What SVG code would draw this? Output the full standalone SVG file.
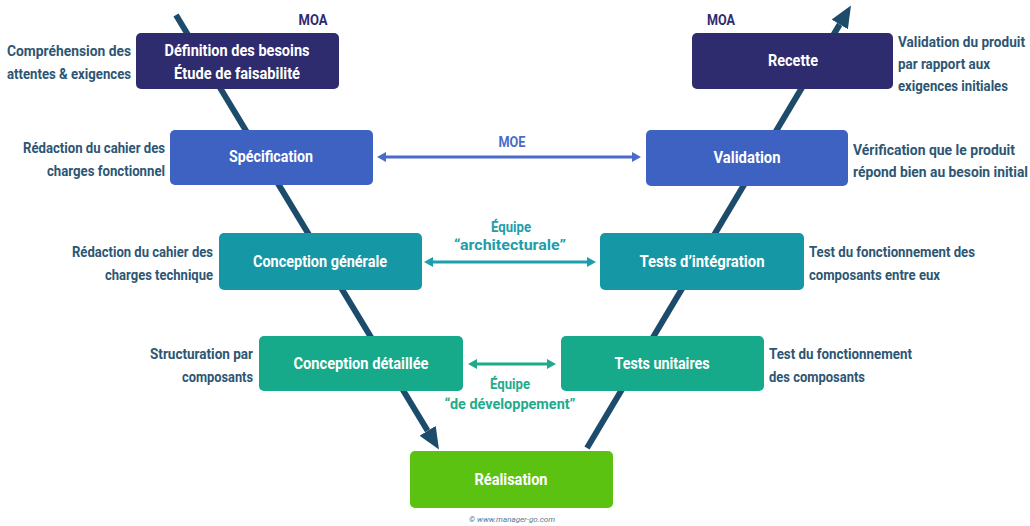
<svg xmlns="http://www.w3.org/2000/svg" width="1030" height="526" viewBox="0 0 1030 526">
  <style>
    .box { rx: 5; ry: 5; }
    text { font-family: Roboto, "Open Sans", sans-serif; font-weight: 700; }
    .title { font-size: 16px; fill: #ffffff; text-anchor: middle; }
    .side { font-size: 14px; fill: #2d5674; }
    .left { text-anchor: end; }
    .tag { font-size: 14px; text-anchor: middle; }
    .credit { font-size: 8px; font-weight: 400; font-style: italic; fill: #5a7a95; text-anchor: middle; }
    .vline { stroke: #1c4b6c; stroke-width: 6; fill: none; }
    .hline { stroke-width: 3; fill: none; }
  </style>
  <defs>
    <marker id="bigHead" markerUnits="userSpaceOnUse" markerWidth="22" markerHeight="19" refX="0" refY="9.5" orient="auto">
      <path d="M0,0 L22,9.5 L0,19 z" fill="#1c4b6c"/>
    </marker>
    <marker id="headMoe" markerUnits="userSpaceOnUse" markerWidth="9" markerHeight="10" refX="0" refY="5" orient="auto-start-reverse">
      <path d="M0,0 L9,5 L0,10 z" fill="#4a6cc8"/>
    </marker>
    <marker id="headArch" markerUnits="userSpaceOnUse" markerWidth="9" markerHeight="10" refX="0" refY="5" orient="auto-start-reverse">
      <path d="M0,0 L9,5 L0,10 z" fill="#1e9dac"/>
    </marker>
    <marker id="headDev" markerUnits="userSpaceOnUse" markerWidth="9" markerHeight="10" refX="0" refY="5" orient="auto-start-reverse">
      <path d="M0,0 L9,5 L0,10 z" fill="#1fab8b"/>
    </marker>
  </defs>

  <rect width="1030" height="526" fill="#ffffff"/>

  <!-- V-cycle descending and ascending branches, plus team links -->
  <g id="connectors">
    <line class="vline" x1="176" y1="15" x2="427.6" y2="430.8" marker-end="url(#bigHead)"/>
    <line class="vline" x1="587" y1="448" x2="839.7" y2="24.4" marker-end="url(#bigHead)"/>
    <line class="hline" stroke="#4a6cc8" x1="386" y1="157" x2="632" y2="157" marker-start="url(#headMoe)" marker-end="url(#headMoe)"/>
    <line class="hline" stroke="#1e9dac" x1="433" y1="262" x2="587" y2="262" marker-start="url(#headArch)" marker-end="url(#headArch)"/>
    <line class="hline" stroke="#1fab8b" x1="477" y1="364" x2="547" y2="364" marker-start="url(#headDev)" marker-end="url(#headDev)"/>
  </g>

  <!-- Team labels -->
  <g id="labels">
    <text class="tag" x="313" y="25" fill="#2f2b6f" textLength="29" lengthAdjust="spacingAndGlyphs">MOA</text>
    <text class="tag" x="721" y="25" fill="#2f2b6f" textLength="28" lengthAdjust="spacingAndGlyphs">MOA</text>
    <text class="tag" x="512" y="147" fill="#4a6cc8" textLength="27" lengthAdjust="spacingAndGlyphs">MOE</text>
    <text class="tag" x="511" y="232" fill="#1e9dac" textLength="40" lengthAdjust="spacingAndGlyphs">Équipe</text>
    <text class="tag" x="510" y="250" fill="#1e9dac" textLength="112" lengthAdjust="spacingAndGlyphs">“architecturale”</text>
    <text class="tag" x="510" y="389" fill="#1fab8b" textLength="40" lengthAdjust="spacingAndGlyphs">Équipe</text>
    <text class="tag" x="510" y="409" fill="#1fab8b" textLength="131" lengthAdjust="spacingAndGlyphs">“de développement”</text>
  </g>

  <g id="definition">
    <rect class="box" x="136" y="33" width="203" height="56" fill="#2f2b6f"/>
    <text class="title" x="237" y="56" textLength="145" lengthAdjust="spacingAndGlyphs">Définition des besoins</text>
    <text class="title" x="237" y="79" textLength="126" lengthAdjust="spacingAndGlyphs">Étude de faisabilité</text>
    <text class="side left" x="131" y="56" textLength="124" lengthAdjust="spacingAndGlyphs">Compréhension des</text>
    <text class="side left" x="131" y="79" textLength="124" lengthAdjust="spacingAndGlyphs">attentes &amp; exigences</text>
  </g>

  <g id="recette">
    <rect class="box" x="692" y="33" width="201" height="56" fill="#2f2b6f"/>
    <text class="title" x="793" y="66" textLength="50" lengthAdjust="spacingAndGlyphs">Recette</text>
    <text class="side" x="898" y="47" textLength="127" lengthAdjust="spacingAndGlyphs">Validation du produit</text>
    <text class="side" x="898" y="69" textLength="92" lengthAdjust="spacingAndGlyphs">par rapport aux</text>
    <text class="side" x="898" y="91" textLength="110" lengthAdjust="spacingAndGlyphs">exigences initiales</text>
  </g>

  <g id="specification">
    <rect class="box" x="170" y="130" width="203" height="55" fill="#3d62c1"/>
    <text class="title" x="271" y="162" textLength="84" lengthAdjust="spacingAndGlyphs">Spécification</text>
    <text class="side left" x="165" y="153" textLength="142" lengthAdjust="spacingAndGlyphs">Rédaction du cahier des</text>
    <text class="side left" x="165" y="176" textLength="118" lengthAdjust="spacingAndGlyphs">charges fonctionnel</text>
  </g>

  <g id="validation">
    <rect class="box" x="646" y="130" width="202" height="56" fill="#3d62c1"/>
    <text class="title" x="747" y="163" textLength="67" lengthAdjust="spacingAndGlyphs">Validation</text>
    <text class="side" x="853" y="155" textLength="162" lengthAdjust="spacingAndGlyphs">Vérification que le produit</text>
    <text class="side" x="853" y="177" textLength="175" lengthAdjust="spacingAndGlyphs">répond bien au besoin initial</text>
  </g>

  <g id="conception-generale">
    <rect class="box" x="219" y="233" width="203" height="57" fill="#1697a6"/>
    <text class="title" x="320" y="267" textLength="134" lengthAdjust="spacingAndGlyphs">Conception générale</text>
    <text class="side left" x="213" y="257" textLength="141" lengthAdjust="spacingAndGlyphs">Rédaction du cahier des</text>
    <text class="side left" x="213" y="280" textLength="108" lengthAdjust="spacingAndGlyphs">charges technique</text>
  </g>

  <g id="tests-integration">
    <rect class="box" x="600" y="233" width="204" height="57" fill="#1697a6"/>
    <text class="title" x="702" y="267" textLength="125" lengthAdjust="spacingAndGlyphs">Tests d’intégration</text>
    <text class="side" x="809" y="257" textLength="166" lengthAdjust="spacingAndGlyphs">Test du fonctionnement des</text>
    <text class="side" x="809" y="280" textLength="131" lengthAdjust="spacingAndGlyphs">composants entre eux</text>
  </g>

  <g id="conception-detaillee">
    <rect class="box" x="259" y="336" width="204" height="55" fill="#16a98a"/>
    <text class="title" x="361" y="369" textLength="135" lengthAdjust="spacingAndGlyphs">Conception détaillée</text>
    <text class="side left" x="253" y="359" textLength="103" lengthAdjust="spacingAndGlyphs">Structuration par</text>
    <text class="side left" x="253" y="382" textLength="71" lengthAdjust="spacingAndGlyphs">composants</text>
  </g>

  <g id="tests-unitaires">
    <rect class="box" x="561" y="336" width="203" height="55" fill="#16a98a"/>
    <text class="title" x="662" y="369" textLength="95" lengthAdjust="spacingAndGlyphs">Tests unitaires</text>
    <text class="side" x="769" y="359" textLength="143" lengthAdjust="spacingAndGlyphs">Test du fonctionnement</text>
    <text class="side" x="769" y="382" textLength="96" lengthAdjust="spacingAndGlyphs">des composants</text>
  </g>

  <g id="realisation">
    <rect class="box" x="410" y="451" width="203" height="57" fill="#5cc212"/>
    <text class="title" x="511" y="485" textLength="73" lengthAdjust="spacingAndGlyphs">Réalisation</text>
  </g>

  <text class="credit" x="512" y="522">© www.manager-go.com</text>
</svg>
